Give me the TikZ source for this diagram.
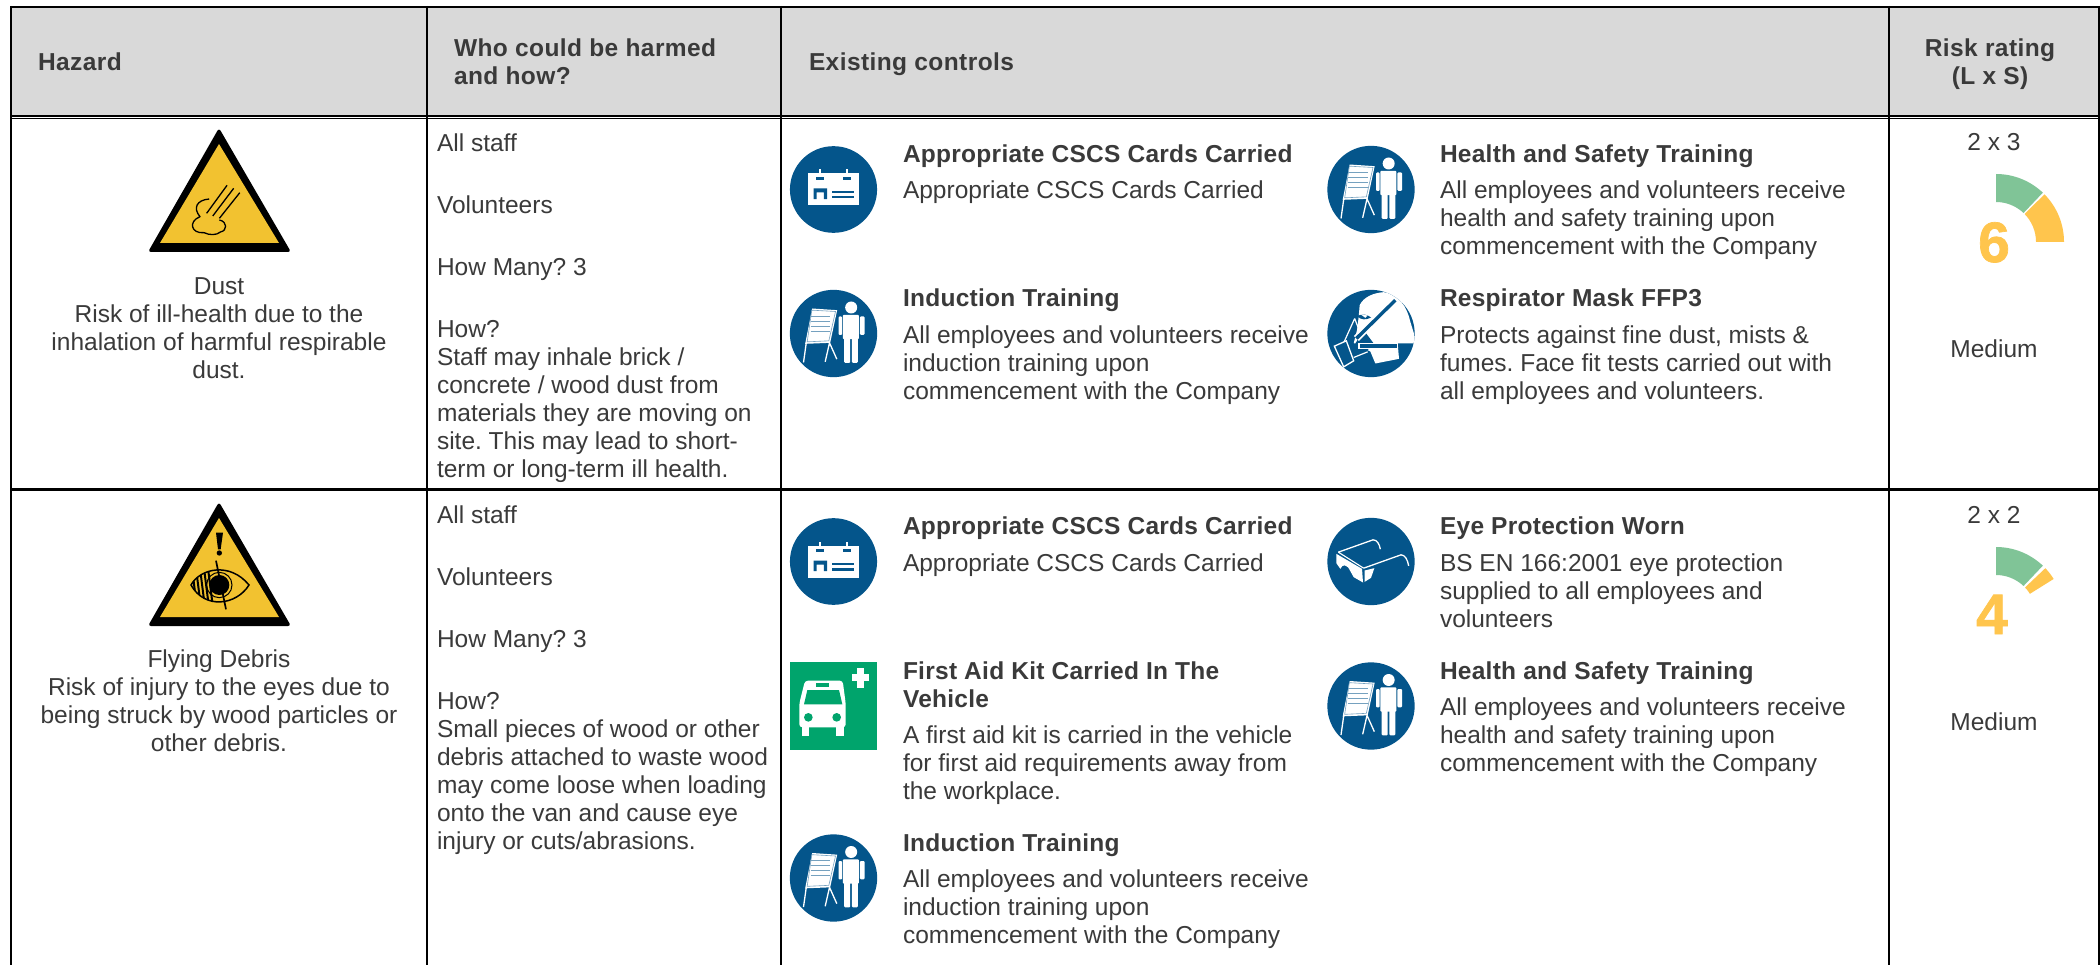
\documentclass[tikz,border=0pt]{standalone}
\usepackage{fontspec}
\setmainfont{Liberation Sans}
\definecolor{tcol}{HTML}{3A3A3A}
\definecolor{hcol}{HTML}{3A3A3A}
\definecolor{hbg}{HTML}{D9D9D9}
\definecolor{sblue}{HTML}{04558B}
\definecolor{sgreen}{HTML}{00A46C}
\definecolor{gauG}{HTML}{80C497}
\definecolor{gauO}{HTML}{FFC54D}
\definecolor{wyel}{HTML}{F2C230}
\newcommand{\st}{\rule{0pt}{18pt}}
\newcommand{\bodyf}{\fontsize{24.5}{28}\selectfont\frenchspacing}
\newcommand{\boldf}{\fontsize{24.5}{28}\selectfont\frenchspacing\bfseries\addfontfeature{LetterSpace=1.1}}
\newcommand{\headf}{\fontsize{24.5}{28}\selectfont\frenchspacing\bfseries\addfontfeature{LetterSpace=1.7}}
\tikzset{
  rulel/.style={black,line width=2.2pt},
  txl/.style={inner sep=0pt,outer sep=0pt,anchor=north west,align=left,yshift=17pt,font=\bodyf,text=tcol},
  txc/.style={inner sep=0pt,outer sep=0pt,anchor=north,align=center,yshift=17pt,font=\bodyf,text=tcol},
  ttl/.style={txl,font=\boldf},
  hdl/.style={txl,font=\headf,text=hcol},
  hdc/.style={txc,font=\headf,text=hcol},
  bignum/.style={inner sep=0pt,outer sep=0pt,anchor=base,font=\fontsize{57}{57}\selectfont\bfseries\addfontfeature{FakeBold=1.2},text=gauO},
}
\newcommand{\cardicon}[2]{%
\begin{scope}[shift={(#1-178/2.8,#2-208/3)},x=0.35714pt,y=-0.33333pt]
\fill[sblue] (178,208) ellipse (122 and 130);
\fill[white] (107,160) rectangle (249,256);
\fill[white] (137,148) rectangle (143,160);
\fill[white] (212,148) rectangle (218,160);
\fill[sblue] (128,171) rectangle (152,179);
\fill[sblue] (204,171) rectangle (228,179);
\fill[sblue] (122,237) -- (122,205) -- (160,205) -- (160,237) -- (151,237) -- (151,217) -- (131,217) -- (131,237) -- cycle;
\fill[sblue] (175,212) rectangle (236,218);
\fill[sblue] (175,227) rectangle (236,235);
\end{scope}}
\newcommand{\presicon}[2]{%
\begin{scope}[shift={(#1-182/3,#2-178/3)},x=0.33333pt,y=-0.33333pt]
\fill[sblue] (182,178) circle (131);
\fill[white] (118,103) -- (193,108) -- (172,206) -- (97,209) -- cycle;
\draw[sblue!55,line width=0.6pt] (117,108) -- (188,112) -- (168,200) -- (103,203) -- cycle;
\foreach \yy in {126,141,156,171}
  \draw[sblue!55,line width=1pt] (113,\yy) -- (172,\yy);
\draw[white,line width=1.3pt] (100,208) -- (92,265) (170,206) -- (157,263) (170,206) -- (192,255);
\fill[white] (235,100) circle (18);
\fill[white,rounded corners=1pt] (210,122) rectangle (258,195);
\fill[white,rounded corners=1pt] (197,127) rectangle (208,182);
\fill[white,rounded corners=1pt] (261,127) rectangle (275,182);
\fill[white,rounded corners=1pt] (214,190) rectangle (232,266);
\fill[white,rounded corners=1pt] (237,190) rectangle (255,266);
\end{scope}}
\newcommand{\maskicon}[2]{%
\begin{scope}[shift={(#1-182/3,#2-610/3)},x=0.33333pt,y=-0.33333pt]
\fill[sblue] (182,610) circle (131);
\begin{scope}
\clip (182,610) circle (131);
\fill[white] (148,525) .. controls (160,500) and (190,488) .. (220,486) .. controls (265,490) and (290,530) .. (300,575) -- (320,640) -- (262,640) -- (266,686) -- (195,700) -- (180,664) -- (130,640) -- (140,600) -- (145,560) -- cycle;
\end{scope}
\fill[sblue] (140,558) .. controls (155,550) and (170,552) .. (182,562) .. controls (168,570) and (152,570) .. (140,558) -- cycle;
\fill[white] (150,552) -- (172,556) -- (165,563) -- cycle;
\fill[sblue] (135,640) -- (160,600) -- (190,640) -- (170,662) -- (130,680) -- (108,636) -- cycle;
\draw[white,line width=1.2pt] (133,565) -- (100,638) (133,565) -- (150,610) (130,682) -- (172,665);
\draw[white,line width=1.3pt,fill=sblue] (72,648) -- (108,632) -- (130,692) -- (100,710) -- cycle;
\draw[white,line width=7pt] (255,510) -- (138,625);
\draw[sblue,line width=3.4pt] (255,510) -- (138,625);
\draw[white,line width=1.3pt,fill=sblue] (146,640) rectangle (262,656);
\end{scope}}
\newcommand{\gogicon}[2]{%
\begin{scope}[shift={(#1-182/3,#2-185/3)},x=0.33333pt,y=-0.33333pt]
\fill[sblue] (182,185) circle (131);
\fill[white] (78,162) -- (155,207) -- (158,248) -- (130,232) -- (120,214) .. controls (110,192) and (96,192) .. (90,207) -- (78,190) -- cycle;
\fill[white] (163,212) -- (192,205) -- (182,234) -- (163,246) -- cycle;
\draw[white,line width=1.3pt] (84,157) -- (188,120) .. controls (200,120) and (207,132) .. (210,148);
\draw[white,line width=1.3pt] (160,205) -- (272,165) .. controls (284,165) and (292,180) .. (295,198);
\draw[white,line width=1.1pt] (84,157) -- (160,205);
\end{scope}}
\newcommand{\aidicon}[2]{%
\begin{scope}[shift={(#1,#2)},x=0.33333pt,y=-0.33333pt]
\fill[sgreen] (60,66) rectangle (321,330);
\fill[white,rounded corners=3pt] (105,122) -- (218,122) -- (227,190) -- (227,262) -- (88,262) -- (88,190) -- cycle;
\fill[white] (95,255) rectangle (117,288);
\fill[white] (198,255) rectangle (222,288);
\fill[sgreen] (112,150) -- (207,150) -- (217,193) -- (102,193) -- cycle;
\fill[sgreen] (138,130) rectangle (178,142);
\fill[sgreen] (115,232) circle (13);
\fill[sgreen] (200,232) circle (13);
\fill[white] (247,103) rectangle (298,122);
\fill[white] (262,85) rectangle (281,143);
\end{scope}}
\newcommand{\warntri}[1]{%
\fill[black,rounded corners=3pt] (219,#1-2) -- (291,#1+122) -- (148,#1+122) -- cycle;
\fill[wyel] (219,#1+14) -- (279,#1+113) -- (160,#1+113) -- cycle;}
\newcommand{\gauge}[5]{%
\begin{scope}[shift={(#1,#2)}]
\fill[#5] (#3:68) arc[start angle=#3,end angle=#4,radius=68] -- (#4:40) arc[start angle=#4,end angle=#3,radius=40] -- cycle;
\end{scope}}
\begin{document}
\begin{tikzpicture}[x=1pt,y=-1pt]
\useasboundingbox (0,0) rectangle (2100,965);
\fill[white] (0,0) rectangle (2100,965);
\fill[hbg] (11,7) rectangle (2099,116);
% table rules
\draw[rulel] (11,7) -- (2099,7);
\draw[black,line width=1.6pt] (11,116) -- (2099,116);
\draw[black,line width=1.6pt] (11,118.5) -- (2099,118.5);
\draw[rulel] (11,489.5) -- (2099,489.5);
\draw[rulel] (11,6) -- (11,965);
\draw[rulel] (427,6) -- (427,965);
\draw[rulel] (781,6) -- (781,965);
\draw[rulel] (1889,6) -- (1889,965);
\draw[rulel] (2099,6) -- (2099,965);
% header
\node[hdl] (hhaz) at (38,69.5) {\st Hazard};
\node[hdl] (hwho) at (454,56) {\st Who could be harmed\\and how?};
\node[hdl] (hctl) at (809,69.5) {\st Existing controls};
\node[hdc] (hrsk) at (1990,56) {\st Risk rating\\(L x S)};
% row 1
\warntri{130}
\begin{scope}[x=0.5102pt,y=-0.33333pt]
\draw[black,line width=1.3pt,line join=round] (410,597) .. controls (385,600) and (378,625) .. (392,650) .. controls (368,665) and (375,702) .. (400,698) .. controls (410,706) and (425,706) .. (432,696) .. controls (446,692) and (446,665) .. (430,660);
\draw[black,line width=1.3pt] (405,640) -- (445,556) (417,648) -- (458,565) (430,655) -- (470,578);
\end{scope}
\node[txc] (d1) at (219,293.5) {\st Dust\\Risk of ill-health due to the\\inhalation of harmful respirable\\dust.};
\node[txl] (w1) at (437,150) {\st All staff\\[34pt]Volunteers\\[34pt]How Many? 3\\[34pt]How?\\Staff may inhale brick /\\concrete / wood dust from\\materials they are moving on\\site. This may lead to short-\\term or long-term ill health.};
\cardicon{833.5}{189.5}
\presicon{833.5}{333.5}
\presicon{1371}{189.5}
\maskicon{1371}{333.5}
\node[ttl] (t11) at (903,162) {\st Appropriate CSCS Cards Carried};
\node[txl] (b11) at (903,198) {\st Appropriate CSCS Cards Carried};
\node[ttl] (t12) at (903,306) {\st Induction Training};
\node[txl] (b12) at (903,342) {\st All employees and volunteers receive\\induction training upon\\commencement with the Company};
\node[ttl] (t13) at (1440,162) {\st Health and Safety Training};
\node[txl] (b13) at (1440,198) {\st All employees and volunteers receive\\health and safety training upon\\commencement with the Company};
\node[ttl] (t14) at (1440,306) {\st Respirator Mask FFP3};
\node[txl] (b14) at (1440,342) {\st Protects against fine dust, mists \&\\fumes. Face fit tests carried out with\\all employees and volunteers.};
\node[txc] (r1) at (1994,150) {\st 2 x 3};
\gauge{1996}{242}{-90}{-46.5}{gauG}
\gauge{1996}{242}{-44.5}{0}{gauO}
\node[bignum] (n1) at (1994,262) {6};
\node[txc] (m1) at (1994,356) {\st Medium};
% row 2
\warntri{504}
\begin{scope}[shift={(130,490)},x=0.33333pt,y=-0.33333pt]
\begin{scope}
\clip (183,285) .. controls (210,235) and (300,215) .. (357,285) .. controls (320,345) and (225,360) .. (183,285) -- cycle;
\foreach \xx in {186,198,210,222,234}
  \draw[black,line width=2pt] (\xx,235) -- (\xx+14,345);
\end{scope}
\draw[black,line width=1.5pt] (183,285) .. controls (210,235) and (300,215) .. (357,285) .. controls (320,345) and (225,360) .. (183,285) -- cycle;
\fill[black] (268,285) circle (30);
\draw[black,line width=1pt] (268,285) circle (38);
\draw[black,line width=1.7pt] (258,212) -- (288,358);
\fill[black] (258,128) -- (279,128) -- (272,178) -- (264,178) -- cycle;
\fill[black] (268,189) circle (8);
\end{scope}
\node[txc] (d2) at (219,666) {\st Flying Debris\\Risk of injury to the eyes due to\\being struck by wood particles or\\other debris.};
\node[txl] (w2) at (437,522) {\st All staff\\[34pt]Volunteers\\[34pt]How Many? 3\\[34pt]How?\\Small pieces of wood or other\\debris attached to waste wood\\may come loose when loading\\onto the van and cause eye\\injury or cuts/abrasions.};
\cardicon{833.5}{561.5}
\aidicon{770}{640}
\presicon{833.5}{878}
\gogicon{1371}{561.5}
\presicon{1371}{706}
\node[ttl] (t21) at (903,533) {\st Appropriate CSCS Cards Carried};
\node[txl] (b21) at (903,570) {\st Appropriate CSCS Cards Carried};
\node[ttl] (t22) at (903,678) {\st First Aid Kit Carried In The\\Vehicle};
\node[txl] (b22) at (903,742) {\st A first aid kit is carried in the vehicle\\for first aid requirements away from\\the workplace.};
\node[ttl] (t23) at (903,850) {\st Induction Training};
\node[txl] (b23) at (903,886) {\st All employees and volunteers receive\\induction training upon\\commencement with the Company};
\node[ttl] (t24) at (1440,533) {\st Eye Protection Worn};
\node[txl] (b24) at (1440,570) {\st BS EN 166:2001 eye protection\\supplied to all employees and\\volunteers};
\node[ttl] (t25) at (1440,678) {\st Health and Safety Training};
\node[txl] (b25) at (1440,714) {\st All employees and volunteers receive\\health and safety training upon\\commencement with the Company};
\node[txc] (r2) at (1994,522) {\st 2 x 2};
\gauge{1996}{615}{-90}{-46.5}{gauG}
\gauge{1996}{615}{-43.5}{-32}{gauO}
\node[bignum] (n2) at (1992,634) {4};
\node[txc] (m2) at (1994,729) {\st Medium};
\end{tikzpicture}
\end{document}
